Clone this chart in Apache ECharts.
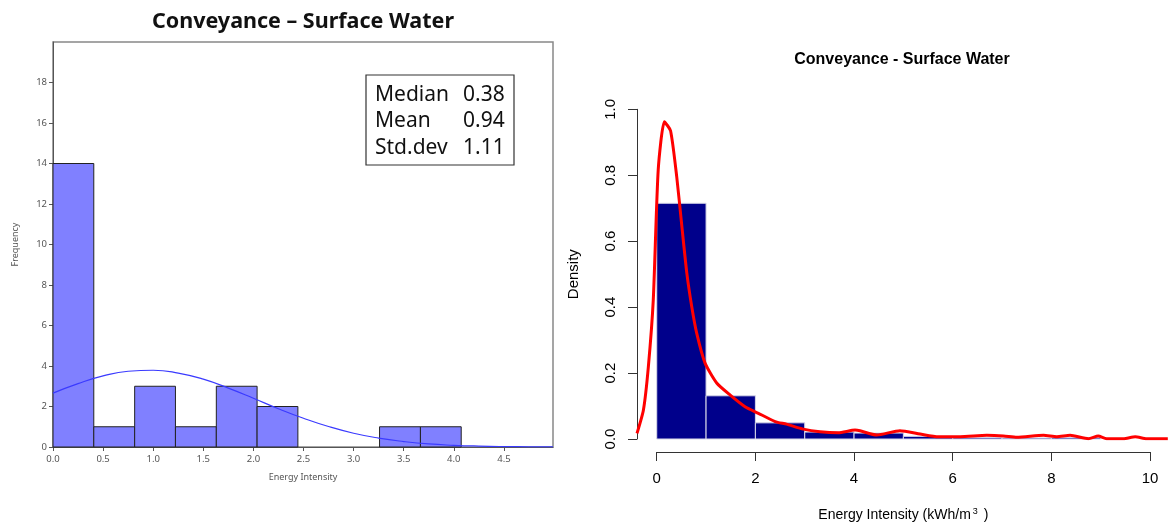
<!doctype html>
<html>
<head>
<meta charset="utf-8">
<script src="https://cdn.jsdelivr.net/npm/echarts@6/dist/echarts.min.js"></script>
<style>
* { margin: 0px; padding: 0px; }
#chart { width: 1168px; height: 524px; background: #fff; }
</style>
</head>
<body>
<div id="chart"></div>
<script>
// left panel: frequency histogram (bin start, bin end, count)
var leftBinStart = [0, 0.407, 0.815, 1.222, 1.630, 2.037, 2.444, 2.852, 3.259, 3.667];
var leftBinEnd   = [0.407, 0.815, 1.222, 1.630, 2.037, 2.444, 2.852, 3.259, 3.667, 4.074];
var leftCounts   = [14, 1, 3, 1, 3, 2, 0, 0, 1, 1];
// fitted normal curve
var normX = [0, 0.25, 0.5, 0.75, 1.0, 1.25, 1.5, 1.75, 2.0, 2.25, 2.5, 2.75, 3.0, 3.25, 3.5, 3.75, 4.0, 4.25, 4.5, 4.75, 4.99];
var normY = [2.66, 3.13, 3.51, 3.74, 3.79, 3.65, 3.35, 2.91, 2.41, 1.89, 1.42, 1.01, 0.68, 0.44, 0.27, 0.15, 0.085, 0.045, 0.022, 0.011, 0.005];
var leftXTicks = [0, 0.5, 1, 1.5, 2, 2.5, 3, 3.5, 4, 4.5];
var leftYTicks = [0, 2, 4, 6, 8, 10, 12, 14, 16, 18];
var statNames  = ['Median', 'Mean', 'Std.dev'];
var statValues = ['0.38', '0.94', '1.11'];

// right panel: density histogram
var rightBinStart = [0, 1, 2, 3, 4, 5, 6, 7, 8];
var rightBinEnd   = [1, 2, 3, 4, 5, 6, 7, 8, 9];
var rightDensity  = [0.715, 0.131, 0.049, 0.021, 0.018, 0.008, 0.004, 0.003, 0.004];
// kernel density curve
var kdeX = [-0.4, -0.27, -0.17, -0.07, 0.03, 0.155, 0.28, 0.405, 0.51, 0.61, 0.71, 0.81, 0.98, 1.22, 1.49, 1.79, 2.06, 2.40, 2.63, 2.97, 3.31, 3.68, 4.02, 4.12, 4.46, 4.93, 5.34, 5.71, 6.15, 6.69, 7.03, 7.30, 7.84, 8.11, 8.38, 8.75, 8.95, 9.12, 9.46, 9.70, 9.93, 10.36];
var kdeY = [0.017, 0.088, 0.219, 0.422, 0.816, 0.962, 0.935, 0.796, 0.644, 0.503, 0.401, 0.321, 0.230, 0.169, 0.133, 0.098, 0.078, 0.053, 0.045, 0.030, 0.022, 0.019, 0.027, 0.025, 0.012, 0.025, 0.015, 0.007, 0.007, 0.011, 0.009, 0.005, 0.011, 0.007, 0.011, 0.001, 0.009, 0.001, 0.001, 0.007, 0.001, 0.001];

function zip3(a, b, c) {
	var out = [];
	for (var i = 0; i < a.length; i++) out.push([a[i], b[i], c[i]]);
	return out;
}
function zip2(a, b) {
	var out = [];
	for (var i = 0; i < a.length; i++) out.push([a[i], b[i]]);
	return out;
}
function histRender(style) {
	return function (params, api) {
		if (!api.value(2)) return null;
		var p0 = api.coord([api.value(0), api.value(2)]);
		var p1 = api.coord([api.value(1), 0]);
		return {
			type: 'rect',
			shape: { x: p0[0], y: p0[1], width: p1[0] - p0[0], height: p1[1] - p0[1] },
			style: style
		};
	};
}

var leftFont = '"Noto Sans", "Open Sans", sans-serif';
var rFont = '"Liberation Sans", Arial, sans-serif';

var graphics = [
	{ type: 'text', x: 303, y: 22, style: { text: 'Conveyance \u2013 Surface Water', font: 'bold 21.5px ' + leftFont, fill: '#111', align: 'center', verticalAlign: 'middle' } },
	{ type: 'text', x: 902, y: 60, style: { text: 'Conveyance - Surface Water', font: 'bold 16px ' + rFont, fill: '#000', align: 'center', verticalAlign: 'middle' } },
	{ type: 'rect', shape: { x: 366, y: 75, width: 148, height: 90 }, style: { fill: 'none', stroke: '#333', lineWidth: 1.2 }, z: 10 }
];
// stats box text
for (var i = 0; i < statNames.length; i++) {
	graphics.push({ type: 'text', x: 375, y: 95 + i * 26.5, z: 11,
		style: { text: statNames[i], font: '21px ' + leftFont, fill: '#111', verticalAlign: 'middle' } });
	graphics.push({ type: 'text', x: 463, y: 95 + i * 26.5, z: 11,
		style: { text: statValues[i], font: '21px ' + leftFont, fill: '#111', verticalAlign: 'middle' } });
}

var myChart = echarts.init(document.getElementById('chart'));
var option = {
	animation: false,
	graphic: graphics,
	grid: [
		{ left: 53, right: 615, top: 42, bottom: 77, show: true, borderColor: '#888', borderWidth: 1.5 },
		{ left: 637, right: 0, top: 109.3, bottom: 85 },
		{ left: 656.7, right: 18, top: 300, bottom: 72 }
	],
	xAxis: [
		{
			gridIndex: 0, type: 'value', min: 0, max: 4.99,
			name: 'Energy Intensity', nameLocation: 'middle', nameGap: 26,
			nameTextStyle: { fontSize: 9, color: '#555', fontFamily: leftFont },
			axisLine: { lineStyle: { color: '#555' } },
			axisTick: { length: 4, customValues: leftXTicks, lineStyle: { color: '#555' } },
			axisLabel: { customValues: leftXTicks, fontSize: 9.5, color: '#555', margin: 7, fontFamily: leftFont,
				formatter: function (v) { return v.toFixed(1); } },
			splitLine: { show: false }
		},
		{
			gridIndex: 1, type: 'value', min: -0.4, max: 10.364, show: false
		},
		{
			gridIndex: 2, type: 'value', min: 0, max: 10, interval: 2,
			name: '{a|Energy Intensity (kWh/m}{s|3}{a| )}', nameLocation: 'middle', nameGap: 55,
			nameTextStyle: { rich: {
				a: { fontSize: 14, color: '#000', fontFamily: rFont },
				s: { fontSize: 9, color: '#000', fontFamily: rFont, verticalAlign: 'top', padding: [0, 2, 8, 2] }
			} },
			axisLine: { lineStyle: { color: '#333' } },
			axisTick: { length: 9, lineStyle: { color: '#333' } },
			axisLabel: { fontSize: 15, color: '#000', margin: 19, fontFamily: rFont },
			splitLine: { show: false }
		}
	],
	yAxis: [
		{
			gridIndex: 0, type: 'value', min: 0, max: 20,
			name: 'Frequency', nameLocation: 'middle', nameGap: 33,
			nameTextStyle: { fontSize: 9, color: '#555', fontFamily: leftFont },
			axisLine: { show: true, onZero: false, lineStyle: { color: '#555' } },
			axisTick: { show: true, length: 4, customValues: leftYTicks, lineStyle: { color: '#555' } },
			axisLabel: { customValues: leftYTicks, fontSize: 9.5, color: '#555', margin: 6, fontFamily: leftFont },
			splitLine: { show: false }
		},
		{
			gridIndex: 1, type: 'value', min: 0, max: 1, interval: 0.2,
			name: 'Density', nameLocation: 'middle', nameGap: 56,
			nameTextStyle: { fontSize: 15, color: '#000', fontFamily: rFont },
			axisLine: { show: true, onZero: false, lineStyle: { color: '#333' } },
			axisTick: { show: true, length: 9, lineStyle: { color: '#333' } },
			axisLabel: { rotate: 90, fontSize: 15, color: '#000', margin: 19, fontFamily: rFont,
				formatter: function (v) { return v.toFixed(1); } },
			splitLine: { show: false }
		},
		{ gridIndex: 2, type: 'value', show: false }
	],
	series: [
		{
			type: 'custom', xAxisIndex: 0, yAxisIndex: 0,
			renderItem: histRender({ fill: '#8080ff', stroke: '#222', lineWidth: 1 }),
			encode: { x: [0, 1], y: 2 },
			data: zip3(leftBinStart, leftBinEnd, leftCounts)
		},
		{
			type: 'line', xAxisIndex: 0, yAxisIndex: 0, smooth: true, showSymbol: false,
			lineStyle: { color: '#3a3aff', width: 1.2 },
			data: zip2(normX, normY)
		},
		{
			type: 'custom', xAxisIndex: 1, yAxisIndex: 1,
			renderItem: histRender({ fill: '#00008b', stroke: '#d8d8e8', lineWidth: 1 }),
			encode: { x: [0, 1], y: 2 },
			data: zip3(rightBinStart, rightBinEnd, rightDensity)
		},
		{
			type: 'line', xAxisIndex: 1, yAxisIndex: 1, smooth: 0.2, showSymbol: false,
			lineStyle: { color: '#ff0000', width: 3 },
			data: zip2(kdeX, kdeY)
		}
	]
};
myChart.setOption(option);
</script>
</body>
</html>
